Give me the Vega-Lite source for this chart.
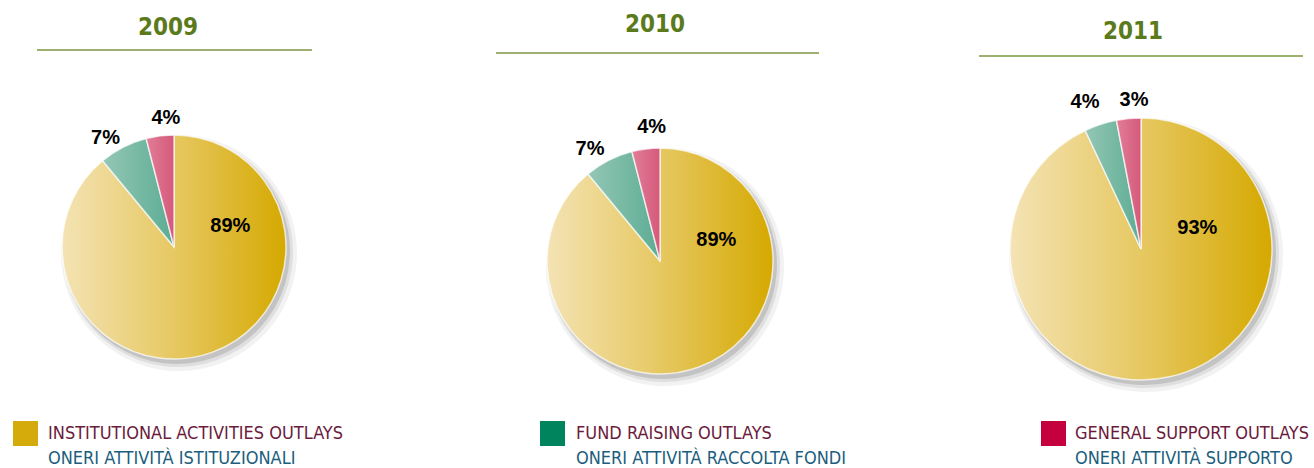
{
  "$schema": "https://vega.github.io/schema/vega-lite/v6.json",
  "width": 1314,
  "height": 468,
  "autosize": {"type": "none"},
  "padding": 0,
  "background": "#ffffff",
  "config": {"view": {"stroke": null}},
  "datasets": {
    "pies": [
      {"year": 2009, "k": 1, "cat": "Institutional activities outlays", "pct": 89, "label": "89%"},
      {"year": 2009, "k": 2, "cat": "Fund raising outlays", "pct": 7, "label": "7%"},
      {"year": 2009, "k": 3, "cat": "General support outlays", "pct": 4, "label": "4%"},
      {"year": 2010, "k": 1, "cat": "Institutional activities outlays", "pct": 89, "label": "89%"},
      {"year": 2010, "k": 2, "cat": "Fund raising outlays", "pct": 7, "label": "7%"},
      {"year": 2010, "k": 3, "cat": "General support outlays", "pct": 4, "label": "4%"},
      {"year": 2011, "k": 1, "cat": "Institutional activities outlays", "pct": 93, "label": "93%"},
      {"year": 2011, "k": 2, "cat": "Fund raising outlays", "pct": 4, "label": "4%"},
      {"year": 2011, "k": 3, "cat": "General support outlays", "pct": 3, "label": "3%"}
    ],
    "legend": [
      {"k": 1, "line": 1, "text": "INSTITUTIONAL ACTIVITIES OUTLAYS"},
      {"k": 1, "line": 2, "text": "ONERI ATTIVITÀ ISTITUZIONALI"},
      {"k": 2, "line": 1, "text": "FUND RAISING OUTLAYS"},
      {"k": 2, "line": 2, "text": "ONERI ATTIVITÀ RACCOLTA FONDI"},
      {"k": 3, "line": 1, "text": "GENERAL SUPPORT OUTLAYS"},
      {"k": 3, "line": 2, "text": "ONERI ATTIVITÀ SUPPORTO"}
    ]
  },
  "resolve": {"scale": {"x": "independent", "y": "independent", "radius": "independent", "theta": "independent", "size": "independent", "color": "independent", "fill": "independent"}},
  "layer": [
    {
      "data": {"name": "pies"},
      "mark": {"type": "arc", "fill": "#000000", "fillOpacity": 0.05, "xOffset": 5, "yOffset": 6},
      "encoding": {
        "x": {"field": "year", "type": "quantitative", "axis": null, "scale": {"domain": [2009, 2010, 2011], "range": [174, 660, 1141]}},
        "y": {"field": "year", "type": "quantitative", "axis": null, "scale": {"domain": [2009, 2010, 2011], "range": [247, 261, 249]}},
        "radius": {"field": "year", "type": "quantitative", "scale": {"type": "linear", "domain": [2009, 2010, 2011], "range": [118, 119, 137], "zero": false}},
        "radius2": {"value": 0},
        "theta": {"field": "pct", "type": "quantitative", "stack": true, "scale": {"domain": [0, 100]}},
        "order": {"field": "k", "type": "quantitative"}
      }
    },
    {
      "data": {"name": "pies"},
      "mark": {"type": "arc", "fill": "#000000", "fillOpacity": 0.08, "xOffset": 4, "yOffset": 5},
      "encoding": {
        "x": {"field": "year", "type": "quantitative", "axis": null, "scale": {"domain": [2009, 2010, 2011], "range": [174, 660, 1141]}},
        "y": {"field": "year", "type": "quantitative", "axis": null, "scale": {"domain": [2009, 2010, 2011], "range": [247, 261, 249]}},
        "radius": {"field": "year", "type": "quantitative", "scale": {"type": "linear", "domain": [2009, 2010, 2011], "range": [115, 116, 134], "zero": false}},
        "radius2": {"value": 0},
        "theta": {"field": "pct", "type": "quantitative", "stack": true, "scale": {"domain": [0, 100]}},
        "order": {"field": "k", "type": "quantitative"}
      }
    },
    {
      "data": {"name": "pies"},
      "mark": {"type": "arc", "fill": "#000000", "fillOpacity": 0.12, "xOffset": 3, "yOffset": 4},
      "encoding": {
        "x": {"field": "year", "type": "quantitative", "axis": null, "scale": {"domain": [2009, 2010, 2011], "range": [174, 660, 1141]}},
        "y": {"field": "year", "type": "quantitative", "axis": null, "scale": {"domain": [2009, 2010, 2011], "range": [247, 261, 249]}},
        "radius": {"field": "year", "type": "quantitative", "scale": {"type": "linear", "domain": [2009, 2010, 2011], "range": [113, 114, 132], "zero": false}},
        "radius2": {"value": 0},
        "theta": {"field": "pct", "type": "quantitative", "stack": true, "scale": {"domain": [0, 100]}},
        "order": {"field": "k", "type": "quantitative"}
      }
    },
    {
      "data": {"name": "pies"},
      "mark": {"type": "arc", "stroke": "#ffffff", "strokeWidth": 1.5, "strokeOpacity": 0.7},
      "encoding": {
        "x": {"field": "year", "type": "quantitative", "axis": null, "scale": {"domain": [2009, 2010, 2011], "range": [174, 660, 1141]}},
        "y": {"field": "year", "type": "quantitative", "axis": null, "scale": {"domain": [2009, 2010, 2011], "range": [247, 261, 249]}},
        "radius": {"field": "year", "type": "quantitative", "scale": {"type": "linear", "domain": [2009, 2010, 2011], "range": [112, 113, 131], "zero": false}},
        "radius2": {"value": 0},
        "theta": {"field": "pct", "type": "quantitative", "stack": true, "scale": {"domain": [0, 100]}},
        "order": {"field": "k", "type": "quantitative"},
        "fill": {
          "condition": [
            {"test": "datum.k == 1", "value": {"gradient": "linear", "x1": 0, "y1": 0, "x2": 1, "y2": 0, "stops": [{"offset": 0, "color": "#f4e3b4"}, {"offset": 0.5, "color": "#e6c862"}, {"offset": 1, "color": "#d5a900"}]}},
            {"test": "datum.k == 2", "value": {"gradient": "linear", "x1": 0, "y1": 0, "x2": 1, "y2": 0, "stops": [{"offset": 0, "color": "#94c7b5"}, {"offset": 1, "color": "#5cac93"}]}}
          ],
          "value": {"gradient": "linear", "x1": 0, "y1": 0, "x2": 1, "y2": 0, "stops": [{"offset": 0, "color": "#e17e98"}, {"offset": 1, "color": "#d5597b"}]}
        }
      }
    },
    {
      "data": {"name": "pies"},
      "transform": [{"filter": "datum.k == 1"}],
      "mark": {"type": "text", "theta": 1.22, "radius": 60, "font": "Liberation Sans", "fontWeight": "bold", "fontSize": 20, "fill": "#000000", "align": "center", "baseline": "middle"},
      "encoding": {
        "x": {"field": "year", "type": "quantitative", "axis": null, "scale": {"domain": [2009, 2010, 2011], "range": [174, 660, 1141]}},
        "y": {"field": "year", "type": "quantitative", "axis": null, "scale": {"domain": [2009, 2010, 2011], "range": [247, 261, 249]}},
        "text": {"field": "label", "type": "nominal"}
      }
    },
    {
      "data": {"name": "pies"},
      "mark": {"type": "text", "font": "Liberation Sans", "fontWeight": "bold", "fontSize": 20, "fill": "#000000", "align": "center", "baseline": "middle"},
      "encoding": {
        "x": {"field": "year", "type": "quantitative", "axis": null, "scale": {"domain": [2009, 2010, 2011], "range": [174, 660, 1141]}},
        "y": {"field": "year", "type": "quantitative", "axis": null, "scale": {"domain": [2009, 2010, 2011], "range": [247, 261, 249]}},
        "radius": {"field": "year", "type": "quantitative", "scale": {"type": "linear", "domain": [2009, 2010, 2011], "range": [129, 132, 157], "zero": false}},
        "theta": {"field": "pct", "type": "quantitative", "stack": true, "bandPosition": 0.3, "scale": {"domain": [0, 100]}},
        "order": {"field": "k", "type": "quantitative"},
        "text": {"condition": {"test": "datum.k != 2", "value": ""}, "field": "label", "type": "nominal"}
      }
    },
    {
      "data": {"name": "pies"},
      "mark": {"type": "text", "font": "Liberation Sans", "fontWeight": "bold", "fontSize": 20, "fill": "#000000", "align": "center", "baseline": "middle"},
      "encoding": {
        "x": {"field": "year", "type": "quantitative", "axis": null, "scale": {"domain": [2009, 2010, 2011], "range": [174, 660, 1141]}},
        "y": {"field": "year", "type": "quantitative", "axis": null, "scale": {"domain": [2009, 2010, 2011], "range": [247, 261, 249]}},
        "radius": {"field": "year", "type": "quantitative", "scale": {"type": "linear", "domain": [2009, 2010, 2011], "range": [129, 134, 149], "zero": false}},
        "theta": {"field": "pct", "type": "quantitative", "stack": true, "bandPosition": 0.75, "scale": {"domain": [0, 100]}},
        "order": {"field": "k", "type": "quantitative"},
        "text": {"condition": {"test": "datum.k != 3", "value": ""}, "field": "label", "type": "nominal"}
      }
    },
    {
      "data": {"name": "pies"},
      "transform": [{"filter": "datum.k == 1"}],
      "mark": {"type": "text", "font": "DejaVu Sans Condensed, sans-serif", "fontWeight": "bold", "fontSize": 24, "fill": "#5b7a1b", "align": "center", "baseline": "middle"},
      "encoding": {
        "x": {"field": "year", "type": "quantitative", "axis": null, "scale": {"domain": [2009, 2010, 2011], "range": [168, 655, 1133]}},
        "y": {"field": "year", "type": "quantitative", "axis": null, "scale": {"domain": [2009, 2010, 2011], "range": [28, 25, 32]}},
        "text": {"field": "year", "type": "nominal"}
      }
    },
    {
      "data": {"name": "pies"},
      "transform": [{"filter": "datum.k == 1"}],
      "mark": {"type": "tick", "orient": "horizontal", "thickness": 2, "color": "#9db071", "opacity": 1},
      "encoding": {
        "x": {"field": "year", "type": "quantitative", "axis": null, "scale": {"domain": [2009, 2010, 2011], "range": [174.5, 657.5, 1141]}},
        "y": {"field": "year", "type": "quantitative", "axis": null, "scale": {"domain": [2009, 2010, 2011], "range": [50, 53, 56]}},
        "size": {"field": "year", "type": "quantitative", "legend": null, "scale": {"type": "linear", "domain": [2009, 2010, 2011], "range": [275, 323, 324], "zero": false}}
      }
    },
    {
      "data": {"name": "legend"},
      "transform": [{"filter": "datum.line == 1"}],
      "mark": {"type": "square", "size": 625, "filled": true, "opacity": 1, "strokeWidth": 0},
      "encoding": {
        "x": {"field": "k", "type": "quantitative", "axis": null, "scale": {"domain": [1, 2, 3], "range": [25.5, 552.5, 1053.5]}},
        "y": {"field": "line", "type": "quantitative", "axis": null, "scale": {"domain": [1, 2], "range": [433.5, 457.5]}},
        "color": {"condition": [{"test": "datum.k == 1", "value": "#d4ab0a"}, {"test": "datum.k == 2", "value": "#00845e"}], "value": "#c4003e"}
      }
    },
    {
      "data": {"name": "legend"},
      "mark": {"type": "text", "font": "DejaVu Sans Condensed, sans-serif", "fontSize": 18, "align": "left", "baseline": "alphabetic"},
      "encoding": {
        "x": {"field": "k", "type": "quantitative", "axis": null, "scale": {"domain": [1, 2, 3], "range": [48, 576, 1075]}},
        "y": {"field": "line", "type": "quantitative", "axis": null, "scale": {"domain": [1, 2], "range": [439, 464]}},
        "color": {"condition": {"test": "datum.line == 1", "value": "#6b1b3c"}, "value": "#1b5e7e"},
        "text": {"field": "text", "type": "nominal"}
      }
    }
  ]
}
